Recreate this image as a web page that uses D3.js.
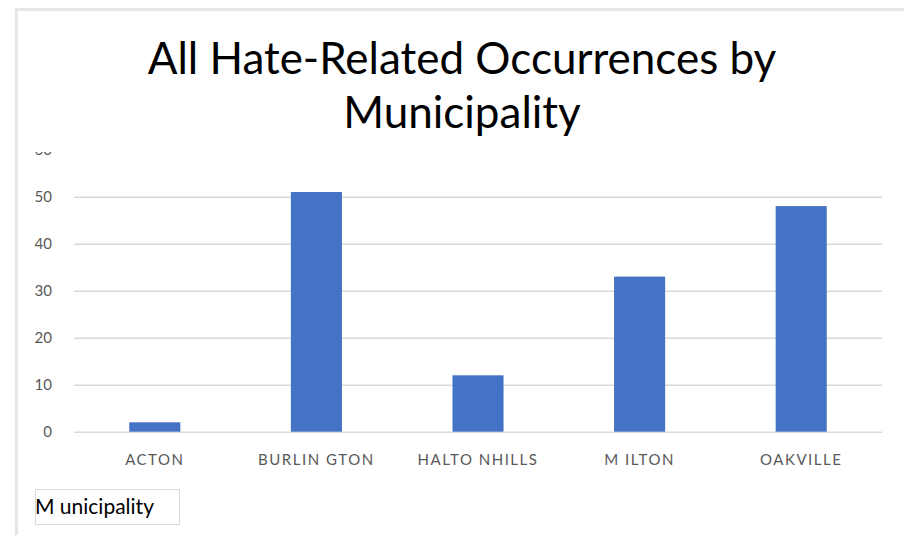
<!DOCTYPE html>
<html>
<head>
<meta charset="utf-8">
<script src="https://cdn.jsdelivr.net/npm/d3@7"></script>
<style>
  html, body { margin: 0; padding: 0; background: #fff; }
  svg { display: block; }
</style>
</head>
<body>
<svg id="chart" width="904" height="535"></svg>
<script>
// Occurrence counts by municipality
const categories = ["ACTON", "BURLINGTON", "HALTONHILLS", "MILTON", "OAKVILLE"];
const categoryLabels = ["ACTON", "BURLIN GTON", "HALTO NHILLS", "M ILTON", "OAKVILLE"];
const occurrences = [2, 51, 12, 33, 48];
const yTicks = [0, 10, 20, 30, 40, 50, 60];
const titleLines = ["All Hate-Related Occurrences by", "Municipality"];
const fieldButton = "M unicipality";

const svg = d3.select("#chart");
const W = 904, H = 535;
const plot = { left: 74, right: 882, top: 149.7, bottom: 431.7 };
const font = "Lato, 'Open Sans', sans-serif";

svg.append("rect").attr("width", W).attr("height", H).attr("fill", "#fff");

// chart frame (top and left edges)
svg.append("path")
  .attr("d", `M16.5,${H} L16.5,9.5 L${W},9.5`)
  .attr("fill", "none").attr("stroke", "#e6e6e6").attr("stroke-width", 3);

const x = d3.scaleBand().domain(categories).range([plot.left, plot.right])
  .paddingInner(0.684).paddingOuter(0.342);
const y = d3.scaleLinear().domain([0, 60]).range([plot.bottom, plot.top]);

// plot region is cut off just below the top tick
svg.append("clipPath").attr("id", "plotClip")
  .append("rect").attr("x", 0).attr("y", 152).attr("width", W).attr("height", H - 152);

const g = svg.append("g").attr("clip-path", "url(#plotClip)");

// gridlines
const yAxis = d3.axisLeft(y).tickValues(yTicks).tickSize(-(plot.right - plot.left)).tickPadding(22);
const ya = g.append("g").attr("transform", `translate(${plot.left},0)`).call(yAxis);
ya.select(".domain").remove();
ya.selectAll(".tick line").attr("stroke", "#d9d9d9").attr("stroke-width", 1.6);
ya.selectAll(".tick text")
  .attr("fill", "#595959").attr("font-family", font).attr("font-size", 15);

// bars
g.selectAll("rect.bar").data(occurrences).join("rect")
  .attr("class", "bar")
  .attr("x", (d, i) => x(categories[i]))
  .attr("width", x.bandwidth())
  .attr("y", d => y(d))
  .attr("height", d => y(0) - y(d))
  .attr("fill", "#4472c4");

// category axis
const xAxis = d3.axisBottom(x).tickSize(0).tickPadding(23).tickFormat((d, i) => categoryLabels[i]);
const xa = svg.append("g").attr("transform", `translate(0,${plot.bottom})`).call(xAxis);
xa.select(".domain").remove();
xa.selectAll(".tick text")
  .attr("fill", "#595959").attr("font-family", font)
  .attr("font-size", 15).attr("letter-spacing", "1.5px");

// title
svg.append("g").selectAll("text").data(titleLines).join("text")
  .attr("x", 462).attr("y", (d, i) => 74 + i * 54)
  .attr("text-anchor", "middle")
  .attr("font-family", font)
  .attr("font-size", 44).attr("fill", "#000")
  .text(d => d);

// field button
svg.append("rect").attr("x", 35.5).attr("y", 489.5).attr("width", 144).attr("height", 35)
  .attr("fill", "#fff").attr("stroke", "#d9d9d9").attr("stroke-width", 1);
svg.append("text").attr("x", 35).attr("y", 514)
  .attr("font-family", font).attr("font-size", 21).attr("fill", "#000")
  .text(fieldButton);
</script>
</body>
</html>
